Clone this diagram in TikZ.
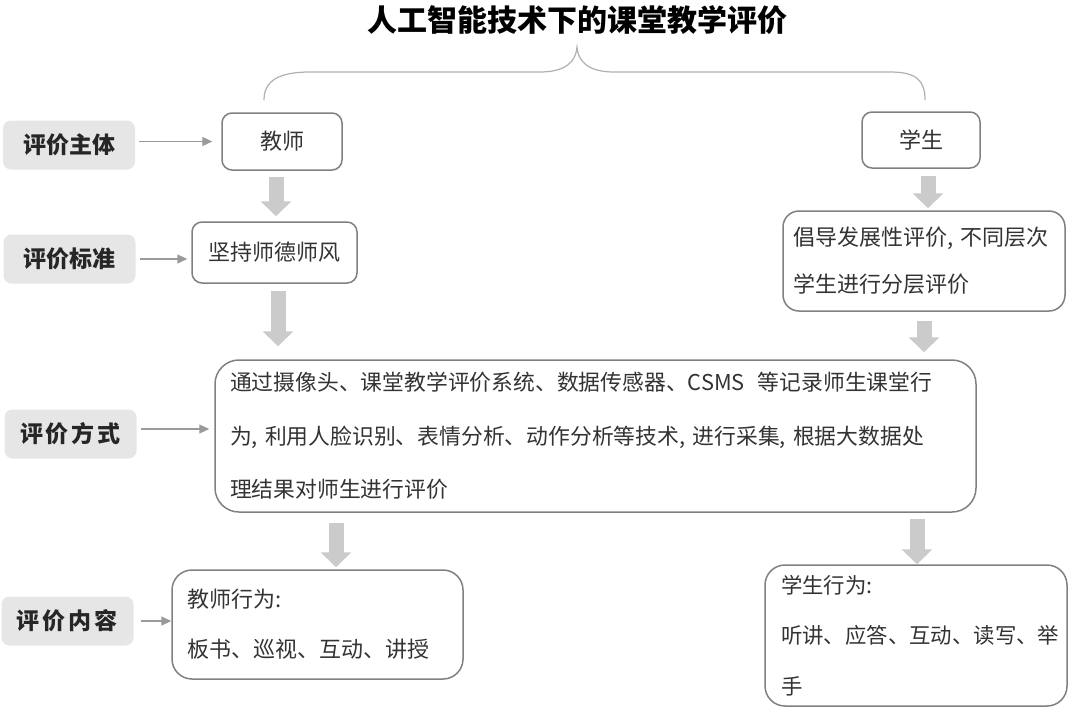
\documentclass[tikz,border=0pt]{standalone}
\usepackage{fontspec}
\setmainfont{Noto Sans CJK SC}
\usetikzlibrary{arrows.meta}
\usepackage{xcolor}
\definecolor{boxline}{HTML}{808080}
\definecolor{lblfill}{HTML}{E6E6E6}
\definecolor{fatgray}{HTML}{CBCBCB}
\definecolor{ptrgray}{HTML}{9A9A9A}
\definecolor{bracegray}{HTML}{B0B0B0}
\definecolor{txtgray}{HTML}{333333}

\begin{document}
\begin{tikzpicture}[
      x=0.5pt, y=-0.5pt,
      box/.style={draw=boxline,line width=0.75pt,rounded corners=5pt,fill=white,text=txtgray,
                  inner sep=0pt,font=\fontsize{11}{13}\selectfont},
      lbl/.style={fill=lblfill,rounded corners=4pt,minimum width=66pt,minimum height=24.5pt,
                  text=black!85,font=\bfseries\fontsize{11.5}{13}\selectfont},
      pointer/.style={draw=ptrgray,line width=0.6pt,-{Triangle[length=5pt,width=4.5pt]}},
      fatarrow/.style={draw=fatgray,line width=7.5pt,-{Triangle[length=7.5pt,width=15pt]}}
    ]
      \useasboundingbox (0,0) rectangle (1080,713);

      % title and brace
      \node[text=black,font=\bfseries\fontsize{15}{18}\selectfont] (title) at (577,20) {人工智能技术下的课堂教学评价};
      \draw[bracegray,line width=0.6pt] (264,100) .. controls (264,80) and (280,72) .. (310,72)
            -- (540,72) .. controls (565,72) and (576,62) .. (577,47)
            .. controls (578,62) and (589,72) .. (614,72)
            -- (890,72) .. controls (916,72) and (925,80) .. (925,100);

      % row labels
      \node[lbl] (subj) at (69,145) {评价主体};
      \node[lbl] (stand) at (69.5,259) {评价标准};
      \node[lbl] (meth) at (70.5,434) {评\hspace{1.5pt}价\hspace{1.5pt}方\hspace{1.5pt}式};
      \node[lbl] (cont) at (67.5,621) {评\hspace{1.5pt}价\hspace{1.5pt}内\hspace{1.5pt}容};

      % boxes
      \node[box,minimum width=60pt,minimum height=28.5pt] (teacher) at (282,141.5) {教师};
      \node[box,minimum width=59pt,minimum height=28pt] (student) at (921,140) {学生};
      \node[box,minimum width=82.5pt,minimum height=30.5pt] (ethics) at (274.5,252.5) {坚持师德师风};
      \node[box,rounded corners=8pt,align=left,text width=131pt,inner xsep=5pt,minimum height=50pt,
            font=\fontsize{11}{23.5}\selectfont] (develop) at (924,261)
            {倡导发展性评价, 不同层次\\学生进行分层评价};
      \node[box,rounded corners=12pt,align=left,text width=365.5pt,inner xsep=7.5pt,minimum height=76pt,
            font=\fontsize{10.9}{26.75}\selectfont] (method) at (595.5,436)
            {通过摄像头、课堂教学评价系统、数据传感器、CSMS\hspace{0.6em}等记录师生课堂行\\
             为, 利用人脸识别、表情分析、动作分析等技术, 进行采集, 根据大数据处\\
             理结果对师生进行评价};
      \node[box,rounded corners=10pt,align=left,text width=130.5pt,inner xsep=7.5pt,minimum height=54.5pt,
            font=\fontsize{11}{25}\selectfont] (tbehav) at (317.5,624.5)
            {教师行为:\\板书、巡视、互动、讲授};
      \node[box,rounded corners=10pt,align=left,text width=135pt,inner xsep=8pt,minimum height=70.5pt,
            font=\fontsize{10.7}{25.25}\selectfont] (sbehav) at (916,635.5)
            {学生行为:\\听讲、应答、互动、读写、举\\手};

      % label pointers
      \draw[pointer,shorten <=2pt,shorten >=4.5pt] (subj.east |- teacher) -- (teacher);
      \draw[pointer,shorten <=2pt,shorten >=2pt] (stand.east) -- (stand.east -| ethics.west);
      \draw[pointer,shorten <=2pt,shorten >=2.5pt] ([shift={(0,-5)}]meth.east) -- ([shift={(0,-5)}]meth.east -| method.west);
      \draw[pointer,shorten <=3.5pt] (cont.east) -- (cont.east -| tbehav.west);

      % flow arrows
      \draw[fatarrow] ([shift={(-6,6)}]teacher.south) -- ([shift={(-6,-5)}]teacher.south |- ethics.north);
      \draw[fatarrow] ([shift={(3.5,7)}]ethics.south) -- ([shift={(3.5,-13)}]ethics.south |- method.north);
      \draw[fatarrow] ([shift={(7,7)}]student.south) -- ([shift={(7,-2)}]student.south |- develop.north);
      \draw[fatarrow] ([shift={(0,9)}]develop.south) -- ([shift={(0,-7)}]develop.south |- method.north);
      \draw[fatarrow] ([shift={(18.5,10)}]tbehav.north |- method.south) -- ([shift={(18.5,-2)}]tbehav.north);
      \draw[fatarrow] ([shift={(1,6)}]sbehav.north |- method.south) -- ([shift={(1,0)}]sbehav.north);
    \end{tikzpicture}
\end{document}
